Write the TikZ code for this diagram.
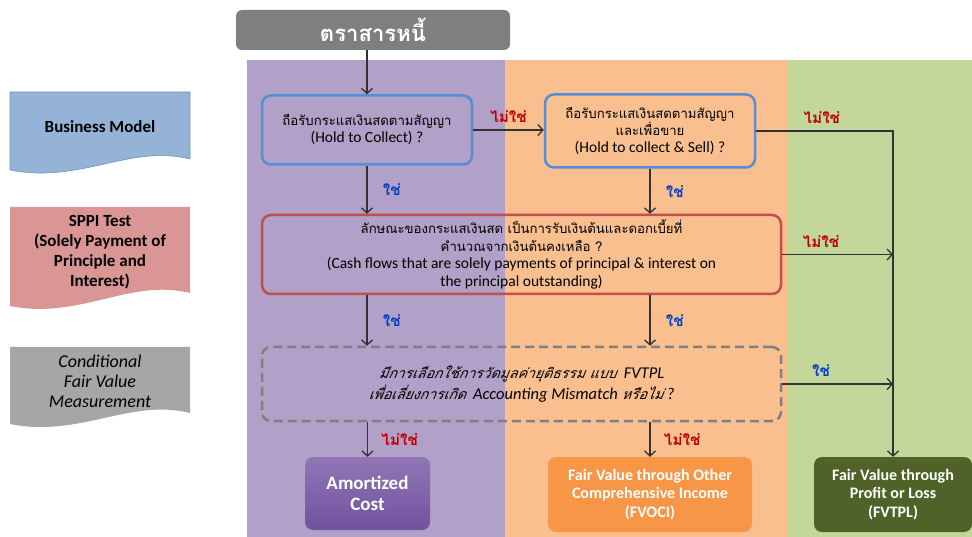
\documentclass[tikz,border=0pt]{standalone}
\usepackage{fontspec}
\setmainfont{Carlito}
\newfontfamily\thaifont[Script=Thai, Scale=0.85]{Loma}
\newfontfamily\thaiit[Script=Thai, Scale=0.85, FakeSlant=0.2]{Loma}
\usetikzlibrary{arrows.meta, positioning}

\definecolor{colpurple}{RGB}{177,160,199}
\definecolor{colorange}{RGB}{250,191,143}
\definecolor{colgreen}{RGB}{196,215,155}
\definecolor{titlegray}{RGB}{127,127,127}
\definecolor{bmblue}{RGB}{149,179,215}
\definecolor{bmedge}{RGB}{110,150,200}
\definecolor{sppired}{RGB}{217,150,148}
\definecolor{fvmgray}{RGB}{166,166,166}
\definecolor{qblue}{RGB}{85,142,213}
\definecolor{qred}{RGB}{192,80,77}
\definecolor{qgray}{RGB}{128,128,128}
\definecolor{amtop}{RGB}{145,118,182}
\definecolor{ambot}{RGB}{112,82,158}
\definecolor{fvociorange}{RGB}{247,150,70}
\definecolor{fvtplgreen}{RGB}{79,98,40}
\definecolor{linegray}{RGB}{50,50,50}
\definecolor{nored}{RGB}{192,0,0}
\definecolor{yesblue}{RGB}{0,64,200}

\begin{document}
\begin{tikzpicture}[x=1pt, y=-1pt,
  question/.style={rectangle, draw, rounded corners=9pt, line width=2.5pt,
                   align=center, font=\fontsize{15.5}{17}\selectfont, inner sep=2pt},
  result/.style={rectangle, rounded corners=8pt, align=center, text=white,
                 font=\bfseries\fontsize{16}{18.5}\selectfont},
  arrow/.style={-{Straight Barb[length=5pt, width=11pt]}, line width=1.3pt, draw=linegray},
  yes/.style={text=yesblue, font=\thaifont\bfseries\fontsize{18}{18}\selectfont},
  no/.style={text=nored, font=\thaifont\bfseries\fontsize{18}{18}\selectfont},
  side/.style={align=center, font=\bfseries\fontsize{17}{20}\selectfont}
]
  \useasboundingbox (0,0) rectangle (972,537);

  % columns
  \fill[colpurple] (247,60) rectangle (505,537);
  \fill[colorange] (505,60) rectangle (787,537);
  \fill[colgreen]  (787,60) rectangle (972,537);

  % side labels
  \path[fill=bmblue, draw=bmedge, line width=0.6pt] (10,92) -- (190,92) -- (190,159)
    .. controls (130,144) and (80,184) .. (10,170) -- cycle;
  \node[side] (bm) at (100,127) {Business Model};
  \path[fill=sppired] (10,207) -- (190,207) -- (190,293)
    .. controls (130,278) and (80,320) .. (10,306) -- cycle;
  \node[side] (spp) at (100,252) {SPPI Test\\(Solely Payment of\\Principle and\\Interest)};
  \path[fill=fvmgray] (10,347) -- (190,347) -- (190,413)
    .. controls (130,398) and (80,438) .. (10,424) -- cycle;
  \node[side, font=\itshape\fontsize{18}{20}\selectfont] (cfv) at (100,381) {Conditional\\Fair Value\\Measurement};

  % title
  \node[rectangle, fill=titlegray, rounded corners=6pt, minimum width=274pt, minimum height=40pt,
        text=white, font=\thaifont\bfseries\fontsize{26}{26}\selectfont] (title) at (373,30) {ตราสารหนี้};

  % questions
  \node[question, draw=qblue, minimum width=210pt, minimum height=69pt] (htc) at (367,130)
    {{\thaifont ถือรับกระแสเงินสดตามสัญญา}\\(Hold to Collect) ?};
  \node[question, draw=qblue, minimum width=210pt, minimum height=73pt,
        font=\fontsize{15.5}{16.5}\selectfont] (htcs) at (650,131)
    {{\thaifont ถือรับกระแสเงินสดตามสัญญา}\\{\thaifont และเพื่อขาย}\\(Hold to collect \& Sell) ?};
  \node[question, draw=qred, minimum width=519pt, minimum height=79pt,
        font=\fontsize{15.5}{17.5}\selectfont] (sppi) at (521.5,254.5)
    {{\thaifont ลักษณะของกระแสเงินสด เป็นการรับเงินต้นและดอกเบี้ยที่}\\{\thaifont คำนวณจากเงินต้นคงเหลือ ?}\\(Cash flows that are solely payments of principal \& interest on\\the principal outstanding)};
  \node[question, draw=qgray, dash pattern=on 9pt off 5pt, minimum width=519pt, minimum height=74pt,
        font=\itshape\fontsize{16.5}{21}\selectfont] (fvo) at (521.5,384)
    {{\thaiit มีการเลือกใช้การวัดมูลค่ายุติธรรม แบบ}\ \ FVTPL\\{\thaiit เพื่อเลี่ยงการเกิด}\ \ Accounting Mismatch\ {\thaiit หรือไม่} ?};

  % results
  \node[result, top color=amtop, bottom color=ambot, minimum width=125pt, minimum height=73pt,
        font=\bfseries\fontsize{19}{20.5}\selectfont] (ac) at (367.5,493.5) {Amortized\\Cost};
  \node[result, fill=fvociorange, minimum width=204pt, minimum height=75pt] (fvoci) at (650,494.5)
    {Fair Value through Other\\Comprehensive Income\\(FVOCI)};
  \node[result, fill=fvtplgreen, minimum width=158pt, minimum height=75pt] (fvtpl) at (893,494.5)
    {Fair Value through\\Profit or Loss\\(FVTPL)};

  % connectors
  \draw[arrow] (htc.north |- title.south) -- (htc.north);
  \draw[arrow] (htc.east) -- node[no, above=3pt] {ไม่ใช่} (htc.east -| htcs.west);
  \draw[arrow] (htc.south) -- node[yes, right=12pt] {ใช่} (htc.south |- sppi.north);
  \draw[arrow] (htcs.south) -- node[yes, right=12pt] {ใช่} (htcs.south |- sppi.north);
  \draw[arrow] (htcs.east) -| node[no, above=3pt, pos=0.24] {ไม่ใช่} (fvtpl.north);
  \draw[arrow] (sppi.east) -- node[no, above=3pt, pos=0.35] {ไม่ใช่} (sppi.east -| fvtpl.north);
  \draw[arrow] (htc.south |- sppi.south) -- node[yes, right=12pt] {ใช่} (htc.south |- fvo.north);
  \draw[arrow] (htcs.south |- sppi.south) -- node[yes, right=12pt] {ใช่} (htcs.south |- fvo.north);
  \draw[arrow] (fvo.east) -- node[yes, above=3pt, pos=0.35] {ใช่} (fvo.east -| fvtpl.north);
  \draw[arrow] (ac.north |- fvo.south) -- node[no, right=10pt] {ไม่ใช่} (ac.north);
  \draw[arrow] (fvoci.north |- fvo.south) -- node[no, right=10pt] {ไม่ใช่} (fvoci.north);
\end{tikzpicture}
\end{document}
